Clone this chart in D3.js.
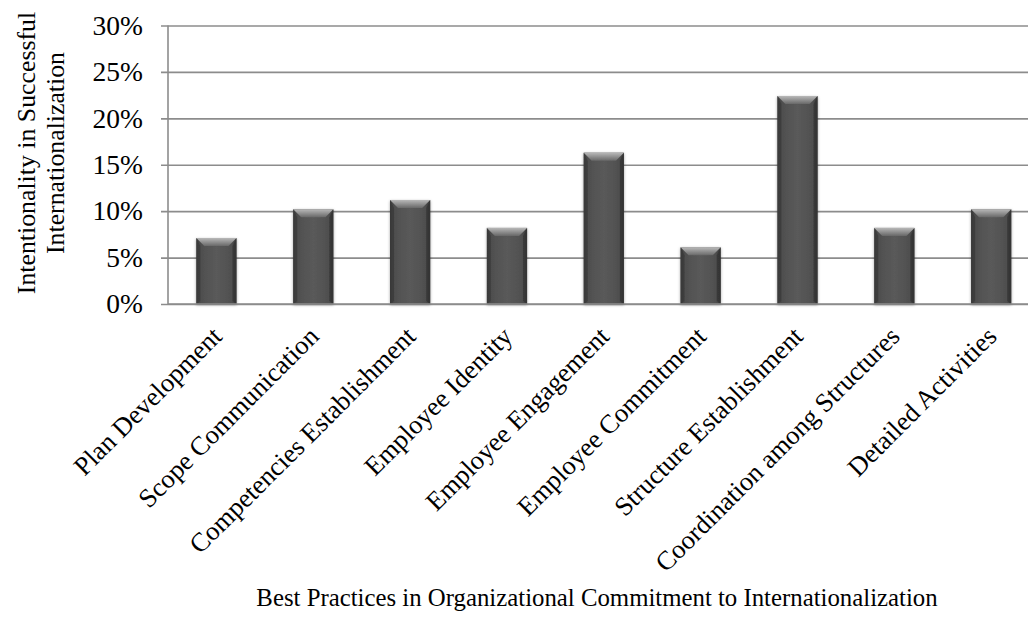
<!DOCTYPE html>
<html>
<head>
<meta charset="utf-8">
<script src="https://cdn.jsdelivr.net/npm/d3@7"></script>
<style>
  html, body { margin: 0; padding: 0; background: #fff; }
  svg { display: block; }
  text { font-family: "Liberation Serif", "Times New Roman", serif; fill: #000; }
</style>
</head>
<body>
<svg id="chart" width="1028" height="633"></svg>
<script>
// Best practices and the share of intentionality each one carries
const categories = [
  "Plan Development",
  "Scope Communication",
  "Competencies Establishment",
  "Employee Identity",
  "Employee Engagement",
  "Employee Commitment",
  "Structure Establishment",
  "Coordination among Structures",
  "Detailed Activities"
];
const shares = [0.071, 0.102, 0.112, 0.082, 0.163, 0.061, 0.224, 0.082, 0.102];
const tickValues = [0, 0.05, 0.10, 0.15, 0.20, 0.25, 0.30];

const yTitleLines = ["Intentionality in Successful", "Internationalization"];
const xTitle = "Best Practices in Organizational Commitment to Internationalization";

const svg = d3.select("#chart");
const W = 1028, H = 633;
const plot = { left: 168, right: 1039.6, top: 25.5, bottom: 304 };

const x = d3.scaleBand()
  .domain(categories)
  .range([plot.left, plot.right])
  .paddingInner(0.585)
  .paddingOuter(0.2925);

const y = d3.scaleLinear()
  .domain([0, 0.30])
  .range([plot.bottom, plot.top]);

// Paint definitions for the bevelled bars
const defs = svg.append("defs");
const body = defs.append("linearGradient").attr("id", "barBody")
  .attr("x1", "0").attr("x2", "1").attr("y1", "0").attr("y2", "0");
body.append("stop").attr("offset", "0").attr("stop-color", "#3e3e3e");
body.append("stop").attr("offset", "0.12").attr("stop-color", "#4f4f4f");
body.append("stop").attr("offset", "0.5").attr("stop-color", "#5a5a5a");
body.append("stop").attr("offset", "0.88").attr("stop-color", "#4f4f4f");
body.append("stop").attr("offset", "1").attr("stop-color", "#3a3a3a");

const cap = defs.append("linearGradient").attr("id", "barCap")
  .attr("x1", "0").attr("x2", "0").attr("y1", "0").attr("y2", "1");
cap.append("stop").attr("offset", "0").attr("stop-color", "#b8b8b8");
cap.append("stop").attr("offset", "1").attr("stop-color", "#686868");

const shadow = defs.append("filter").attr("id", "barShadow")
  .attr("x", "-20%").attr("y", "-10%").attr("width", "140%").attr("height", "120%");
shadow.append("feDropShadow")
  .attr("dx", 0).attr("dy", 1).attr("stdDeviation", 1.6)
  .attr("flood-color", "#000").attr("flood-opacity", 0.35);

// Horizontal gridlines with short outer ticks
const yAxis = d3.axisLeft(y)
  .tickValues(tickValues)
  .tickSize(-(W - plot.left))
  .tickSizeOuter(0)
  .tickPadding(25)
  .tickFormat(d3.format(".0%"));

const gy = svg.append("g")
  .attr("transform", `translate(${plot.left},0)`)
  .call(yAxis);
gy.select(".domain").remove();
gy.selectAll(".tick line")
  .attr("x1", -7)
  .attr("stroke", "#8c8c8c")
  .attr("stroke-width", 1.6);
gy.selectAll(".tick text")
  .attr("font-size", 27.5)
  .attr("font-family", "'Liberation Serif', 'Times New Roman', serif")
  .attr("fill", "#000");

// Vertical axis line
svg.append("line")
  .attr("x1", plot.left).attr("x2", plot.left)
  .attr("y1", plot.top).attr("y2", plot.bottom)
  .attr("stroke", "#8c8c8c").attr("stroke-width", 1.6);

// Bars
const bars = svg.append("g").selectAll("g.bar")
  .data(categories.map((c, i) => ({ c, v: shares[i] })))
  .join("g")
  .attr("class", "bar")
  .attr("filter", "url(#barShadow)");

bars.append("rect")
  .attr("x", d => x(d.c))
  .attr("y", d => y(d.v))
  .attr("width", x.bandwidth())
  .attr("height", d => y(0) - y(d.v))
  .attr("fill", "url(#barBody)");

// Top bevel
bars.append("path")
  .attr("d", d => {
    const x0 = x(d.c), x1 = x0 + x.bandwidth(), t = y(d.v), b = 8;
    return `M${x0},${t}L${x1},${t}L${x1 - b},${t + b}L${x0 + b},${t + b}Z`;
  })
  .attr("fill", "url(#barCap)");

// Side bevels
bars.append("path")
  .attr("d", d => {
    const x0 = x(d.c), t = y(d.v), bt = y(0), b = 4;
    return `M${x0},${t}L${x0 + b},${t + 8}L${x0 + b},${bt - 3}L${x0},${bt}Z`;
  })
  .attr("fill", "#353535").attr("opacity", 0.6);
bars.append("path")
  .attr("d", d => {
    const x1 = x(d.c) + x.bandwidth(), t = y(d.v), bt = y(0), b = 4;
    return `M${x1},${t}L${x1 - b},${t + 8}L${x1 - b},${bt - 3}L${x1},${bt}Z`;
  })
  .attr("fill", "#2f2f2f").attr("opacity", 0.6);

// Baseline drawn over the bars
svg.append("line")
  .attr("x1", plot.left).attr("x2", W)
  .attr("y1", plot.bottom).attr("y2", plot.bottom)
  .attr("stroke", "#8c8c8c").attr("stroke-width", 1.6);

// Slanted category labels
svg.append("g").selectAll("text")
  .data(categories)
  .join("text")
  .attr("transform", d => `translate(${x(d) + x.bandwidth() / 2 + 7},${plot.bottom + 34}) rotate(-45)`)
  .attr("text-anchor", "end")
  .attr("font-size", 26.5)
  .text(d => d);

// Axis titles
const yt = svg.append("text")
  .attr("transform", `translate(35,153) rotate(-90)`)
  .attr("text-anchor", "middle")
  .attr("font-size", 25.8);
yt.append("tspan").attr("x", 0).attr("y", 0).text(yTitleLines[0]);
yt.append("tspan").attr("x", 0).attr("y", 29).text(yTitleLines[1]);

svg.append("text")
  .attr("x", 597).attr("y", 606)
  .attr("text-anchor", "middle")
  .attr("font-size", 24.8)
  .text(xTitle);
</script>
</body>
</html>
